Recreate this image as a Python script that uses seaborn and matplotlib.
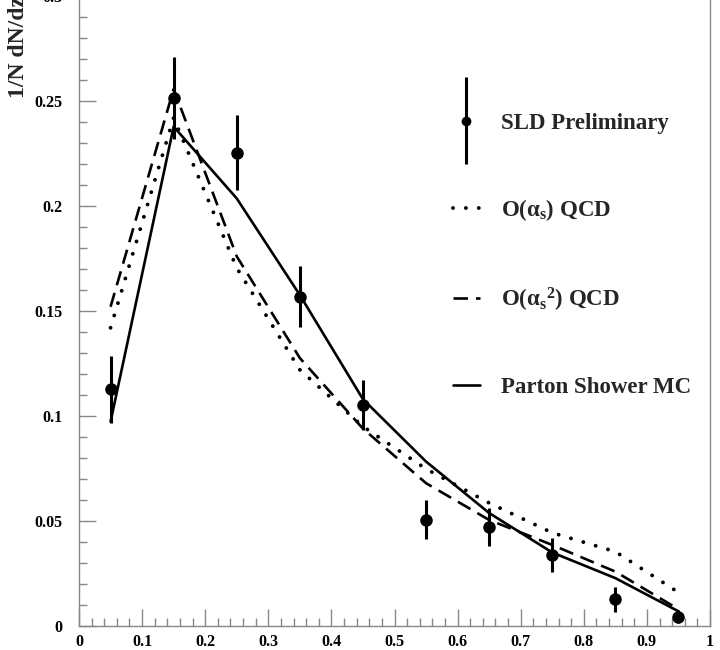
import matplotlib
matplotlib.use("Agg")
import matplotlib.pyplot as plt
import seaborn as sns
from matplotlib.container import ErrorbarContainer
from matplotlib.legend_handler import HandlerErrorbar
from matplotlib.ticker import FuncFormatter, MultipleLocator

# bin centres in z
z_bins = [0.05, 0.15, 0.25, 0.35, 0.45, 0.55, 0.65, 0.75, 0.85, 0.95]

# SLD data with errors
sld = [0.1127, 0.2513, 0.2254, 0.1568, 0.1052, 0.0505, 0.0473, 0.0338, 0.0127, 0.0044]
sld_err = [0.016, 0.0195, 0.0177, 0.0145, 0.012, 0.0093, 0.009, 0.008, 0.006, 0.003]

# predictions
qcd_1st = [0.142, 0.242, 0.1705, 0.122, 0.095, 0.0748, 0.0586, 0.0444, 0.0354, 0.016]
qcd_2nd = [0.152, 0.2557, 0.176, 0.1276, 0.094, 0.068, 0.0505, 0.0386, 0.0259, 0.008]
parton_mc = [0.0973, 0.2378, 0.2036, 0.1576, 0.108, 0.0783, 0.0538, 0.035, 0.0228, 0.007]

labels = ["SLD Preliminary", r"O($\alpha_s$) QCD", r"O($\alpha_s{}^2$) QCD", "Parton Shower MC"]

sns.set_theme(style="white")
plt.rcParams["font.family"] = ["Liberation Serif", "DejaVu Serif"]
plt.rcParams["font.weight"] = "bold"
plt.rcParams["mathtext.fontset"] = "custom"
plt.rcParams["mathtext.rm"] = "Liberation Serif:bold"
plt.rcParams["mathtext.it"] = "Liberation Serif:bold"
plt.rcParams["mathtext.bf"] = "Liberation Serif:bold"

fig = plt.figure(figsize=(7.2, 6.5), dpi=100)
ax = fig.add_axes([79 / 720, 24 / 650, 631 / 720, 630 / 650])

sns.lineplot(x=z_bins, y=qcd_1st, ax=ax, color="black", lw=2.8,
             linestyle=(0, (0.01, 3.3)), dash_capstyle="round", label=labels[1])
sns.lineplot(x=z_bins, y=qcd_2nd, ax=ax, color="black", lw=1.9,
             linestyle=(0, (5.5, 3.0)), label=labels[2])
sns.lineplot(x=z_bins, y=parton_mc, ax=ax, color="black", lw=1.9, label=labels[3])
eb = ax.errorbar(z_bins, sld, yerr=sld_err, fmt="o", color="black", ms=8,
                 elinewidth=2.2, capsize=0, zorder=5, label=labels[0])

ax.set_xlim(0, 1)
ax.set_ylim(0, 0.3)

ax.xaxis.set_major_locator(MultipleLocator(0.1))
ax.xaxis.set_minor_locator(MultipleLocator(0.02))
ax.yaxis.set_major_locator(MultipleLocator(0.05))
ax.yaxis.set_minor_locator(MultipleLocator(0.01))
fmt = FuncFormatter(lambda v, _: f"{round(v, 3):g}")
ax.xaxis.set_major_formatter(fmt)
ax.yaxis.set_major_formatter(fmt)

ax.tick_params(which="both", direction="in", color="#888888", width=1,
               labelsize=11.5, labelcolor="black", bottom=True, left=True,
               top=False, right=False)
ax.tick_params(which="major", length=12)
ax.tick_params(which="minor", length=6)
ax.tick_params(axis="y", pad=12)
ax.tick_params(axis="x", pad=6)
for lab in ax.get_xticklabels() + ax.get_yticklabels():
    lab.set_fontweight("bold")

ax.spines["top"].set_visible(False)
for side in ["left", "bottom", "right"]:
    ax.spines[side].set_color("#888888")
    ax.spines[side].set_linewidth(1)

ax.set_ylabel("1/N dN/dz", loc="top", fontsize=17, fontweight="bold")
ax.yaxis.set_label_coords(-0.08, 1.0)
ax.set_xlabel("")

handles, labs = ax.get_legend_handles_labels()
order = [labs.index(l) for l in labels]
leg = ax.legend([handles[i] for i in order], [labs[i] for i in order],
                loc="upper left", bbox_to_anchor=(0.574, 0.833), frameon=False,
                fontsize=16.5, handlelength=1.2, handletextpad=0.9,
                labelspacing=2.75, borderpad=0, markerscale=0.75,
                handler_map={ErrorbarContainer: HandlerErrorbar(yerr_size=1.9, numpoints=1)})

fig.savefig("out.png", dpi=100)
